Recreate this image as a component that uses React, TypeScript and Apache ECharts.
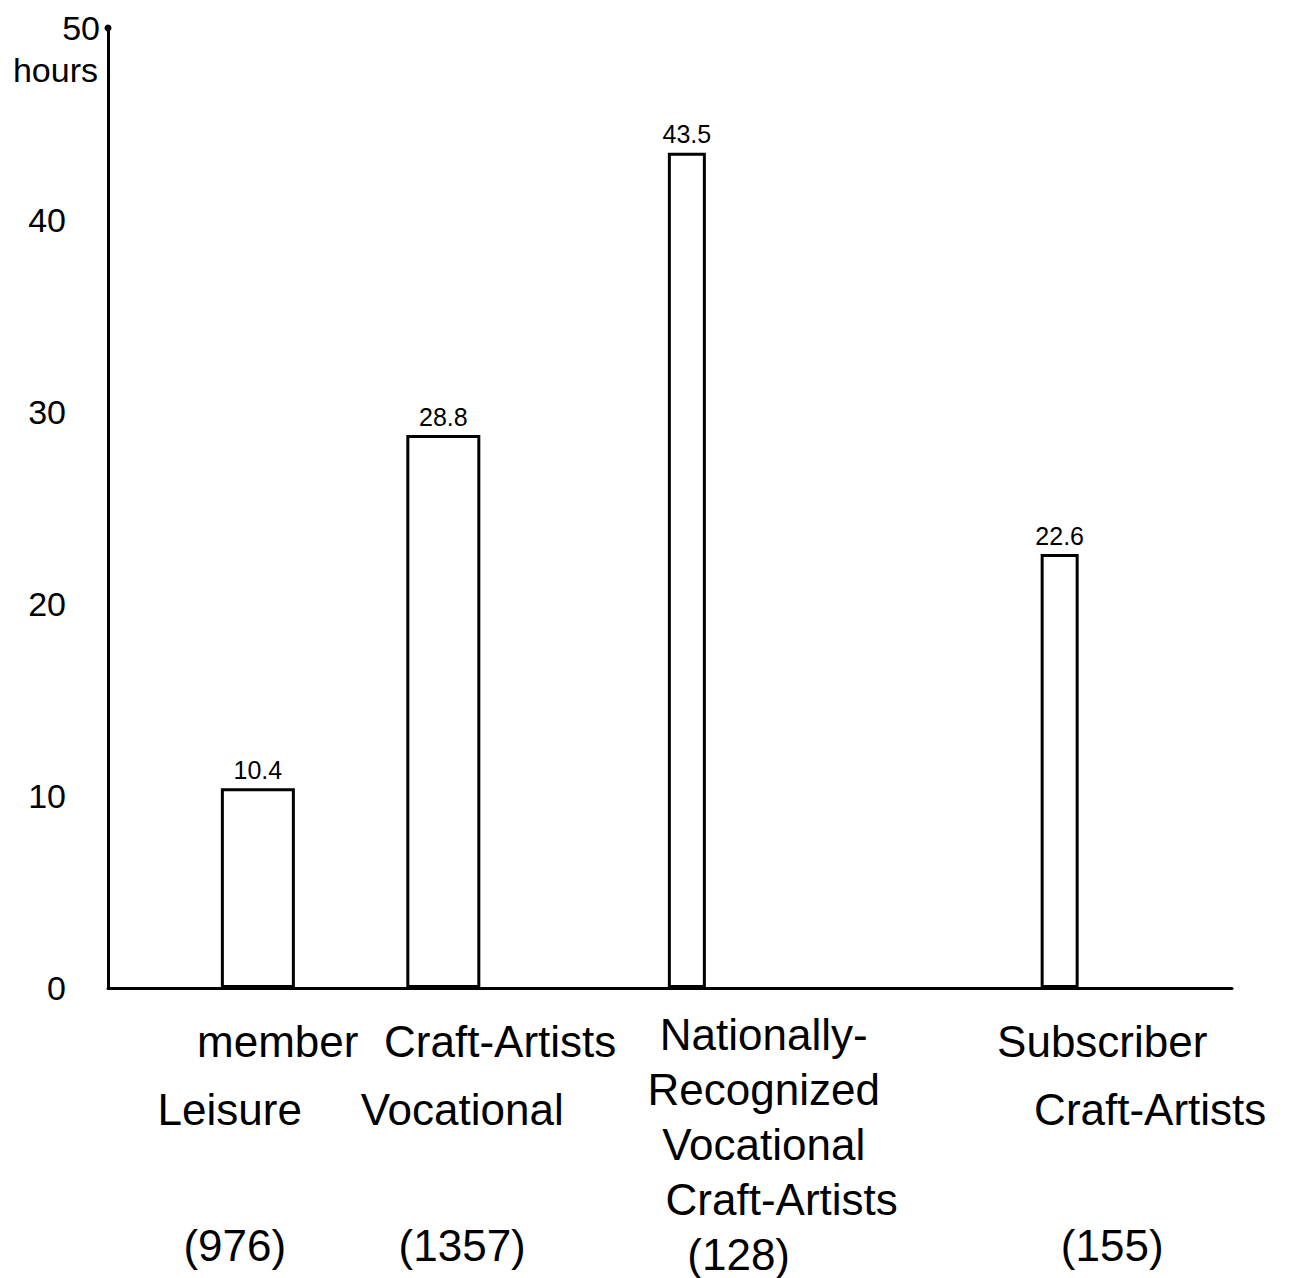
import React, { useEffect, useRef } from "react";
import * as echarts from "echarts";

// ---- data ----
const categoryLines: string[][] = [
  ["member", "Leisure"],
  ["Craft-Artists", "Vocational"],
  ["Nationally-", "Recognized", "Vocational", "Craft-Artists"],
  ["Subscriber", "Craft-Artists"],
];
const respondents = ["(976)", "(1357)", "(128)", "(155)"];
const hours = [10.4, 28.8, 43.5, 22.6];
const yTicks = [0, 10, 20, 30, 40, 50];

// placement of groups along a hidden 0–12 horizontal scale (layout, not data)
const X_MIN = 0;
const X_MAX = 12;
const barSlot = [1.6, 3.58, 6.18, 10.16];
const labelSlot = [1.46, 3.92, 7.0, 10.86];
// hand-written lines drift left/right of the label centre (px); last entry = respondent count
const lineShift: number[][] = [
  [33, -15, -10],
  [25, -13, -13],
  [0, 0, 0, 18, -25],
  [-23, 25, -13],
];
const wideBars = [0, 1];
const narrowBars = [2, 3];

const FONT = "'Liberation Sans', 'DejaVu Sans', sans-serif";

export default function App() {
  const ref = useRef<HTMLDivElement>(null);

  useEffect(() => {
    if (!ref.current) return;
    const chart = echarts.init(ref.current, undefined, { renderer: "svg" });

    const rich: Record<string, any> = {};
    const labelText = (i: number) => {
      const lines = [...categoryLines[i], respondents[i]];
      const lh = categoryLines[i].length > 2 ? 55 : 68;
      const parts = lines.map((l, j) => {
        const dx = lineShift[i][j] || 0;
        const key = `l${i}_${j}`;
        rich[key] = {
          fontSize: 44,
          lineHeight: lh,
          fontFamily: FONT,
          color: "#000",
          padding: dx >= 0 ? [0, 0, 0, 2 * dx] : [0, -2 * dx, 0, 0],
        };
        return `{${key}|${l}}`;
      });
      if (categoryLines[i].length === 2) {
        rich[`g${i}`] = { fontSize: 44, lineHeight: lh, fontFamily: FONT };
        parts.splice(2, 0, `{g${i}| }`);
      }
      return parts.join("\n");
    };
    const labelTexts = labelSlot.map((_, i) => labelText(i));

    const barSeries = (idx: number[], axis: number, width: number) => ({
      type: "bar",
      xAxisIndex: axis,
      barWidth: width,
      data: idx.map((i) => [barSlot[i], hours[i]]),
      itemStyle: { color: "#ffffff", borderColor: "#000000", borderWidth: 3 },
      label: {
        show: true,
        position: "top",
        distance: 6,
        color: "#000",
        fontFamily: FONT,
        fontSize: 25,
        formatter: (p: any) => Number(p.value[1]).toFixed(1),
      },
    });

    chart.setOption({
      animation: false,
      backgroundColor: "#ffffff",
      grid: { left: 108, right: 77, top: 28, bottom: 290 },
      xAxis: [
        {
          type: "value",
          min: X_MIN,
          max: X_MAX,
          axisLine: { show: true, lineStyle: { color: "#000", width: 3 } },
          axisTick: { show: false },
          splitLine: { show: false },
          axisLabel: {
            show: true,
            // blank end values absorb the min/max overlap check
            customValues: [X_MIN, ...labelSlot, X_MAX],
            showMinLabel: false,
            showMaxLabel: false,
            hideOverlap: false,
            margin: 19,
            color: "#000",
            fontFamily: FONT,
            formatter: (v: number) => {
              const i = labelSlot.indexOf(v);
              return i >= 0 ? labelTexts[i] : "";
            },
            rich,
          },
        },
        {
          type: "value",
          min: X_MIN,
          max: X_MAX,
          show: false,
        },
      ],
      yAxis: {
        type: "value",
        min: yTicks[0],
        max: yTicks[yTicks.length - 1],
        interval: 10,
        name: "hours",
        nameLocation: "end",
        nameGap: -42,
        nameTextStyle: {
          fontFamily: FONT,
          fontSize: 34,
          color: "#000",
          align: "right",
          verticalAlign: "middle",
          padding: [0, 10, 0, 0],
        },
        axisLine: {
          show: true,
          symbol: ["none", "circle"],
          symbolSize: [7, 7],
          lineStyle: { color: "#000", width: 3 },
        },
        axisTick: { show: false },
        splitLine: { show: false },
        axisLabel: {
          margin: 8,
          color: "#000",
          fontFamily: FONT,
          fontSize: 34,
          formatter: (v: number) =>
            v === yTicks[yTicks.length - 1] ? `{t|${v}}` : `{n|${v}}`,
          rich: {
            t: { fontSize: 34, fontFamily: FONT, color: "#000" },
            n: { fontSize: 34, fontFamily: FONT, color: "#000", padding: [0, 34, 0, 0] },
          },
        },
      },
      series: [barSeries(wideBars, 0, 74), barSeries(narrowBars, 1, 38)],
    });

    return () => chart.dispose();
  }, []);

  return (
    <div
      ref={ref}
      style={{ position: "absolute", left: 0, top: 0, width: 1309, height: 1278 }}
    />
  );
}
